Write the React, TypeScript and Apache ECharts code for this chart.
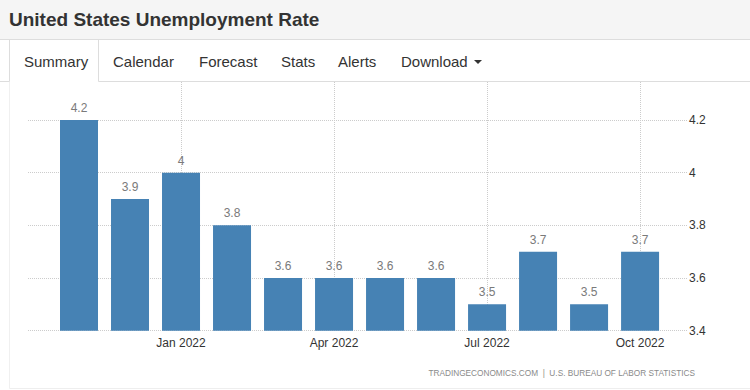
import React, { useEffect, useRef } from "react";
import * as echarts from "echarts";

const TITLE = "United States Unemployment Rate";
const TABS = ["Summary", "Calendar", "Forecast", "Stats", "Alerts", "Download"];
const TAB_X = [24, 113, 199, 281, 338, 401];
const MONTHS = [
  "Nov 2021", "Dec 2021", "Jan 2022", "Feb 2022", "Mar 2022", "Apr 2022",
  "May 2022", "Jun 2022", "Jul 2022", "Aug 2022", "Sep 2022", "Oct 2022",
];
const RATES = [4.2, 3.9, 4.0, 3.8, 3.6, 3.6, 3.6, 3.6, 3.5, 3.7, 3.5, 3.7];
const SOURCE = "TRADINGECONOMICS.COM  |  U.S. BUREAU OF LABOR STATISTICS";

const FONT = "'Liberation Sans', Arial, sans-serif";

export default function App() {
  const ref = useRef<HTMLDivElement>(null);
  useEffect(() => {
    if (!ref.current) return;
    const chart = echarts.init(ref.current, null, { renderer: "svg" });
    const border = "#dddddd";
    const tabTexts = TABS.map((t, i) => ({
      type: "text",
      x: TAB_X[i],
      y: 61,
      style: {
        text: t,
        fill: "#333333",
        font: `15px ${FONT}`,
        verticalAlign: "middle",
        align: "left",
      },
    }));
    chart.setOption({
      animation: false,
      backgroundColor: "#ffffff",
      textStyle: { fontFamily: FONT },
      grid: { left: 28, right: 63, top: 82, bottom: 59.3, containLabel: false },
      xAxis: {
        type: "value",
        min: -1,
        max: 11.92,
        interval: 3,
        axisLine: { show: false },
        axisTick: { show: false },
        axisLabel: {
          margin: 6,
          color: "#333333",
          fontSize: 12,
          fontFamily: FONT,
          formatter: (v: number) =>
            Number.isInteger(v) && v >= 0 && v < MONTHS.length ? MONTHS[v] : "",
        },
        splitLine: {
          show: true,
          showMinLine: false,
          showMaxLine: false,
          lineStyle: { color: "#cccccc", type: "dotted", width: 1 },
        },
      },
      yAxis: {
        type: "value",
        position: "right",
        min: 3.4,
        max: 4.344,
        interval: 0.2,
        axisLine: { show: false },
        axisTick: { show: false },
        axisLabel: {
          margin: 2,
          color: "#333333",
          fontSize: 12,
          fontFamily: FONT,
          showMaxLabel: false,
          formatter: (v: number) => {
            const r = Math.round(v * 10) / 10;
            return Math.abs(r - v) < 1e-6 ? String(r) : "";
          },
        },
        splitLine: {
          show: true,
          showMaxLine: false,
          lineStyle: { color: "#cccccc", type: "dotted", width: 1 },
        },
      },
      series: [
        {
          type: "bar",
          barWidth: 38,
          data: MONTHS.map((_, i) => [i, RATES[i]]),
          itemStyle: { color: "#4682b4" },
          label: {
            show: true,
            position: "top",
            distance: 6,
            color: "#7a7a7a",
            fontSize: 12,
            fontFamily: FONT,
            formatter: (p: any) => String(p.value[1]),
          },
        },
      ],
      graphic: [
        {
          type: "rect",
          shape: { x: 0, y: 0, width: 750, height: 39 },
          style: { fill: "#f5f5f5" },
          z: -1,
        },
        {
          type: "line",
          shape: { x1: 0, y1: 39.5, x2: 750, y2: 39.5 },
          style: { stroke: border, lineWidth: 1 },
        },
        {
          type: "text",
          x: 9,
          y: 19,
          style: {
            text: TITLE,
            fill: "#333333",
            font: `bold 19px ${FONT}`,
            verticalAlign: "middle",
          },
        },
        // tab row borders
        {
          type: "line",
          shape: { x1: 0, y1: 81.5, x2: 9.5, y2: 81.5 },
          style: { stroke: border, lineWidth: 1 },
        },
        {
          type: "line",
          shape: { x1: 98.5, y1: 81.5, x2: 750, y2: 81.5 },
          style: { stroke: border, lineWidth: 1 },
        },
        {
          type: "line",
          shape: { x1: 9.5, y1: 40, x2: 9.5, y2: 81.5 },
          style: { stroke: border, lineWidth: 1 },
        },
        {
          type: "line",
          shape: { x1: 98.5, y1: 40, x2: 98.5, y2: 81.5 },
          style: { stroke: border, lineWidth: 1 },
        },
        // faint panel borders
        {
          type: "line",
          shape: { x1: 9.5, y1: 82, x2: 9.5, y2: 388.5 },
          style: { stroke: "#f0f0f0", lineWidth: 1 },
        },
        {
          type: "line",
          shape: { x1: 9.5, y1: 388.5, x2: 750, y2: 388.5 },
          style: { stroke: "#eeeeee", lineWidth: 1 },
        },
        ...tabTexts,
        {
          type: "polygon",
          shape: { points: [[474, 60], [482, 60], [478, 64]] },
          style: { fill: "#333333" },
        },
        {
          type: "text",
          x: 695,
          y: 373,
          scaleX: 0.92,
          style: {
            text: SOURCE,
            fill: "#8a8a8a",
            font: `9px ${FONT}`,
            align: "right",
            verticalAlign: "middle",
          },
        },
      ],
    });
    return () => chart.dispose();
  }, []);
  return (
    <div
      ref={ref}
      style={{ position: "fixed", left: 0, top: 0, width: 750, height: 390 }}
    />
  );
}
